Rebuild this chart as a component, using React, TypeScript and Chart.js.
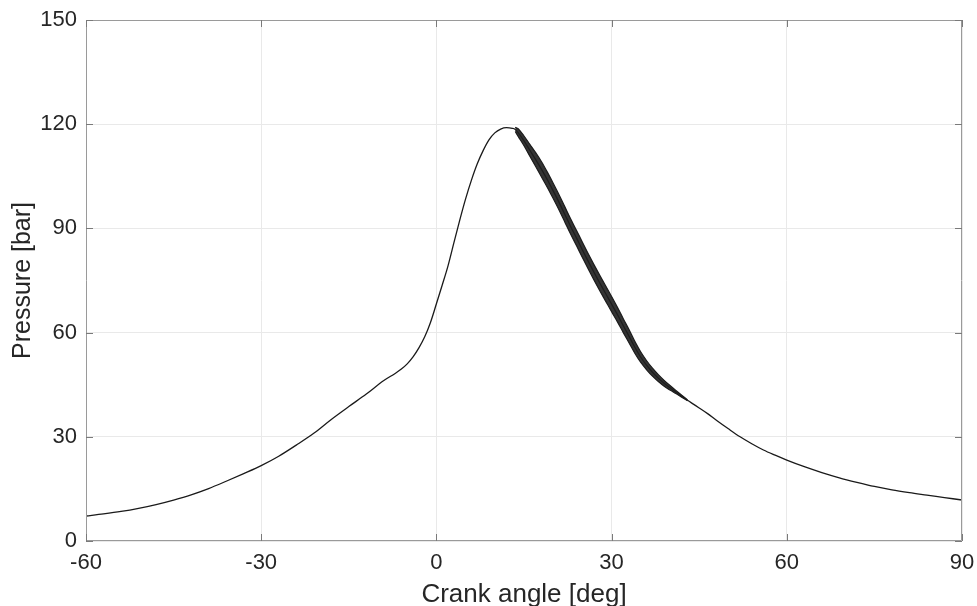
import { useEffect, useRef } from 'react';
import { Chart, registerables } from 'chart.js';

Chart.register(...registerables);

// Crank angle [deg] of the mean pressure trace
const angles = [
  -60, -57, -54, -51, -48, -45, -42, -39, -36, -33, -30, -27, -24, -21, -18, -15, -12, -9, -7, -6,
  -5, -4, -3, -2, -1, 0, 1, 2, 3, 4, 5, 6, 7, 8, 9, 10, 11, 12, 13, 13.5,
  14, 15, 16, 17, 18, 19, 20, 21, 22, 23, 24, 25, 26, 27, 28, 29, 30, 31, 32, 33,
  34, 35, 36, 37, 38, 39, 40, 41, 42, 43, 44, 45, 46.5, 48, 50, 52, 54, 56, 58, 60,
  63, 66, 69, 72, 75, 78, 81, 84, 87, 90,
];
// Pressure [bar]
const pressure = [
  7.2, 7.8, 8.5, 9.4, 10.5, 11.8, 13.3, 15.1, 17.2, 19.4, 21.7, 24.4, 27.6, 31.0, 35.0, 38.7, 42.3, 46.2, 48.3, 49.5,
  51.0, 53.0, 55.6, 58.8, 63.0, 68.3, 73.7, 79.3, 85.9, 92.4, 98.5, 103.9, 108.6, 112.4, 115.5, 117.5, 118.6, 119.0, 118.8, 118.5,
  117.6, 115.2, 112.5, 109.8, 107.0, 104.0, 100.8, 97.5, 94.0, 90.5, 87.2, 83.8, 80.5, 77.3, 74.2, 71.2, 68.2, 65.2, 62.0, 58.9,
  55.7, 52.9, 50.6, 48.6, 46.9, 45.4, 44.1, 42.9, 41.7, 40.5, 39.4, 38.3, 36.6, 34.7, 32.3, 30.0, 28.0, 26.2, 24.7, 23.3,
  21.4, 19.7, 18.2, 16.9, 15.7, 14.7, 13.9, 13.2, 12.5, 11.8,
];

// Knock ringing band (upper / lower envelope of the oscillation)
const knockAngles = [
  13.5, 14, 15, 16, 17, 18, 19, 20, 21, 22, 23, 24, 25, 26, 27, 28, 29, 30, 31, 32,
  33, 34, 35, 36, 37, 38, 39, 40, 41, 42, 43,
];
const knockUpper = [
  119.1, 118.7, 116.6, 114.2, 111.8, 109.2, 106.2, 103.0, 99.7, 96.2, 92.7, 89.4, 86.0, 82.7, 79.5, 76.4, 73.4, 70.4, 67.3, 64.0,
  60.8, 57.4, 54.4, 51.9, 49.75, 47.9, 46.25, 44.75, 43.35, 42.0, 40.62,
];
const knockLower = [
  117.9, 116.5, 113.8, 110.8, 107.8, 104.8, 101.8, 98.6, 95.3, 91.8, 88.3, 85.0, 81.6, 78.3, 75.1, 72.0, 69.0, 66.0, 63.1, 60.0,
  57.0, 54.0, 51.4, 49.3, 47.45, 45.9, 44.55, 43.45, 42.45, 41.4, 40.38,
];

const xTicks = [-60, -30, 0, 30, 60, 90];
const yTicks = [0, 30, 60, 90, 120, 150];

const FONT = "'Liberation Sans', Arial, Helvetica, sans-serif";

const boxPlugin = {
  id: 'matlabBox',
  afterDraw(chart: any) {
    const { ctx, chartArea: a, scales } = chart;
    ctx.save();
    ctx.strokeStyle = '#9a9a9a';
    ctx.lineWidth = 1;
    ctx.beginPath();
    ctx.rect(a.left + 0.5, a.top + 0.5, a.right - a.left - 1, a.bottom - a.top - 1);
    ctx.stroke();
    ctx.strokeStyle = '#7a7a7a';
    const len = 7;
    ctx.beginPath();
    xTicks.forEach((v) => {
      const px = Math.round(scales.x.getPixelForValue(v)) + 0.5;
      ctx.moveTo(px, a.bottom);
      ctx.lineTo(px, a.bottom - len);
      ctx.moveTo(px, a.top);
      ctx.lineTo(px, a.top + len);
    });
    yTicks.forEach((v) => {
      const py = Math.round(scales.y.getPixelForValue(v)) + 0.5;
      ctx.moveTo(a.left, py);
      ctx.lineTo(a.left + len, py);
      ctx.moveTo(a.right, py);
      ctx.lineTo(a.right - len, py);
    });
    ctx.stroke();
    ctx.restore();
  },
};

export default function App() {
  const ref = useRef<HTMLCanvasElement>(null);

  useEffect(() => {
    if (!ref.current) return;
    const main = angles.map((x, i) => ({ x, y: pressure[i] }));
    const up = knockAngles.map((x, i) => ({ x, y: knockUpper[i] }));
    const lo = knockAngles.map((x, i) => ({ x, y: knockLower[i] }));

    const chart = new Chart(ref.current, {
      type: 'line',
      data: {
        datasets: [
          {
            data: lo,
            borderColor: '#1c1c1c',
            borderWidth: 1.2,
            pointRadius: 0,
            cubicInterpolationMode: 'monotone',
            fill: false,
          },
          {
            data: up,
            borderColor: '#1c1c1c',
            borderWidth: 1.2,
            pointRadius: 0,
            cubicInterpolationMode: 'monotone',
            fill: '-1',
            backgroundColor: 'rgba(30,30,30,0.9)',
          },
          {
            data: main,
            borderColor: '#1a1a1a',
            borderWidth: 1.3,
            pointRadius: 0,
            cubicInterpolationMode: 'monotone',
            fill: false,
          },
        ],
      },
      options: {
        animation: false,
        responsive: false,
        maintainAspectRatio: false,
        layout: { padding: { top: 20, right: 15, left: 0, bottom: 0 } },
        plugins: { legend: { display: false }, tooltip: { enabled: false } },
        scales: {
          x: {
            type: 'linear',
            min: -60,
            max: 90,
            afterBuildTicks: (s: any) => {
              s.ticks = xTicks.map((v) => ({ value: v }));
            },
            afterFit: (s: any) => {
              s.height = 65;
              s.paddingLeft = 0;
              s.paddingRight = 0;
            },
            ticks: {
              color: '#262626',
              font: { family: FONT, size: 22 },
              padding: 9,
              maxRotation: 0,
            },
            grid: { color: '#e9e9e9', drawTicks: false, lineWidth: 1 },
            border: { display: false },
            title: {
              display: true,
              text: 'Crank angle [deg]',
              color: '#262626',
              font: { family: FONT, size: 26, lineHeight: 0.85 },
              padding: { top: 0, bottom: 0 },
            },
          },
          y: {
            type: 'linear',
            min: 0,
            max: 150,
            afterBuildTicks: (s: any) => {
              s.ticks = yTicks.map((v) => ({ value: v }));
            },
            afterFit: (s: any) => {
              s.width = 86;
              s.paddingTop = 0;
              s.paddingBottom = 0;
            },
            ticks: {
              color: '#262626',
              font: { family: FONT, size: 22 },
              padding: 9,
            },
            grid: { color: '#e9e9e9', drawTicks: false, lineWidth: 1 },
            border: { display: false },
            title: {
              display: true,
              text: 'Pressure [bar]',
              color: '#262626',
              font: { family: FONT, size: 25, lineHeight: 1.2 },
              padding: { top: 8, bottom: 0 },
            },
          },
        },
      },
      plugins: [boxPlugin],
    });
    return () => chart.destroy();
  }, []);

  return (
    <div style={{ position: 'fixed', left: 0, top: 0, width: 977, height: 606, background: '#fff' }}>
      <canvas ref={ref} width={977} height={606} style={{ display: 'block' }} />
    </div>
  );
}
